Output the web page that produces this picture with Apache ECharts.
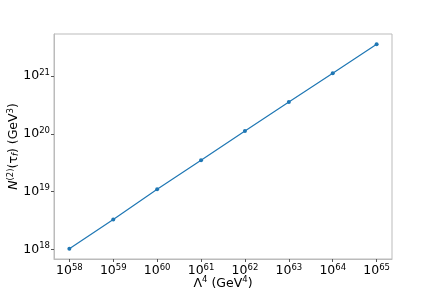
<!DOCTYPE html>
<html>
<head>
<meta charset="utf-8">
<script src="https://cdn.jsdelivr.net/npm/echarts@6/dist/echarts.min.js"></script>
<style>html,body{margin:0;padding:0;background:#fff}#c{width:436px;height:291px}</style>
</head>
<body>
<div id="c"></div>
<script>
var lambda4 = [1e58, 1e59, 1e60, 1e61, 1e62, 1e63, 1e64, 1e65];
var n2 = [1.03e18, 3.3e18, 1.1e19, 3.5e19, 1.12e20, 3.55e20, 1.12e21, 3.55e21];
var xTicks = [1e58, 1e59, 1e60, 1e61, 1e62, 1e63, 1e64, 1e65];
var yTicks = [1e18, 1e19, 1e20, 1e21];

var chart = echarts.init(document.getElementById('c'));
function expLabel(v) {
  var e = Math.log10(v);
  var r = Math.round(e);
  if (Math.abs(e - r) > 1e-6) return '';
  return '{b|10}{s|' + r + '}';
}
var tickRich = {
  b: {fontFamily: 'DejaVu Sans', fontSize: 12.5, color: '#000'},
  s: {fontFamily: 'DejaVu Sans', fontSize: 8.5, color: '#000', verticalAlign: 'bottom', padding: [0, 0, 7, 0]}
};
var data = lambda4.map(function (x, i) { return [x, n2[i]]; });
chart.setOption({
  animation: false,
  grid: {left: 54, right: 44, top: 34, bottom: 32, show: true, borderColor: '#bbb', borderWidth: 1, outerBoundsMode: 'none', containLabel: false},
  xAxis: {
    type: 'log', logBase: 10,
    min: Math.pow(10, 57.65), max: Math.pow(10, 65.35),
    splitLine: {show: false},
    axisLine: {lineStyle: {color: '#bbb'}},
    axisTick: {length: 3, lineStyle: {color: '#555'}, customValues: xTicks},
    axisLabel: {formatter: expLabel, rich: tickRich, margin: 4, customValues: xTicks},
    name: '{b|Λ}{s|4}{b| (GeV}{s|4}{b|)}',
    nameLocation: 'middle', nameGap: 16.5, nameMoveOverlap: false,
    nameTextStyle: {rich: tickRich}
  },
  yAxis: {
    type: 'log', logBase: 10,
    min: Math.pow(10, 17.836), max: Math.pow(10, 21.727),
    splitLine: {show: false},
    axisLine: {lineStyle: {color: '#bbb'}},
    axisTick: {length: 3, lineStyle: {color: '#555'}, customValues: yTicks},
    axisLabel: {formatter: expLabel, rich: tickRich, margin: 4, customValues: yTicks},
    name: '{i|N}{s|(2)}{b|(τ}{si|f}{b|) (GeV}{s|3}{b|)}',
    nameLocation: 'middle', nameGap: 32, nameMoveOverlap: false,
    nameTextStyle: {rich: {
      b: {fontFamily: 'DejaVu Sans', fontSize: 12.5, color: '#000'},
      i: {fontFamily: 'DejaVu Sans', fontSize: 12.5, fontStyle: 'italic', color: '#000'},
      s: {fontFamily: 'DejaVu Sans', fontSize: 8.5, color: '#000', verticalAlign: 'bottom', padding: [0, 0, 7, 0]},
      si: {fontFamily: 'DejaVu Sans', fontSize: 8.5, fontStyle: 'italic', color: '#000', verticalAlign: 'top', padding: [5, 0, 0, 0]}
    }}
  },
  series: [{
    type: 'line', data: data,
    lineStyle: {color: '#1f77b4', width: 1.2},
    itemStyle: {color: '#1f77b4'},
    symbol: 'circle', symbolSize: 4, showSymbol: true
  }]
});
</script>
</body>
</html>
